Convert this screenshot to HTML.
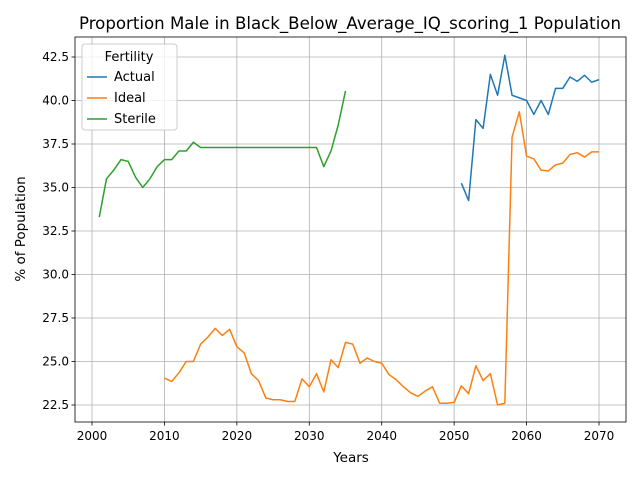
<!DOCTYPE html>
<html><head><meta charset="utf-8"><style>
body{margin:0;background:#fff;font-family:"Liberation Sans","DejaVu Sans",sans-serif}
</style></head><body>
<svg id="chart" width="640" height="480" xmlns="http://www.w3.org/2000/svg" font-family="DejaVu Sans, Liberation Sans, sans-serif">
<rect width="640" height="480" fill="#fff"/>
<text x="350" y="29" font-size="16.7" text-anchor="middle" textLength="542" lengthAdjust="spacingAndGlyphs">Proportion Male in Black_Below_Average_IQ_scoring_1 Population</text>
<g id="grid"></g><g id="series"></g><g id="axes"></g>
<text x="351" y="462" font-size="13.5" text-anchor="middle">Years</text>
<text transform="translate(25,229) rotate(-90)" font-size="13.5" text-anchor="middle">% of Population</text>
<g>
<rect x="82" y="44" width="95" height="86" rx="3" fill="#fff" fill-opacity="0.8" stroke="#ccc"/>
<text x="129" y="61" font-size="13" text-anchor="middle">Fertility</text>
<g><line x1="87" x2="107" y1="77" y2="77" stroke="#1f77b4" stroke-width="1.5"/><text x="114" y="81" font-size="13">Actual</text></g>
<g><line x1="87" x2="107" y1="98" y2="98" stroke="#ff7f0e" stroke-width="1.5"/><text x="114" y="102" font-size="13">Ideal</text></g>
<g><line x1="87" x2="107" y1="119" y2="119" stroke="#2ca02c" stroke-width="1.5"/><text x="114" y="123" font-size="13">Sterile</text></g>
</g>
</svg>
<script>
const xTicks=[2000,2010,2020,2030,2040,2050,2060,2070];
const yTicks=[22.5,25.0,27.5,30.0,32.5,35.0,37.5,40.0,42.5];
const sterileYears=[2001,2002,2003,2004,2005,2006,2007,2008,2009,2010,2011,2012,2013,2014,2015,2016,2017,2018,2019,2020,2021,2022,2023,2024,2025,2026,2027,2028,2029,2030,2031,2032,2033,2034,2035];
const sterileVals=[33.3,35.5,36.0,36.6,36.5,35.6,35.0,35.5,36.2,36.6,36.6,37.1,37.1,37.6,37.3,37.3,37.3,37.3,37.3,37.3,37.3,37.3,37.3,37.3,37.3,37.3,37.3,37.3,37.3,37.3,37.3,36.2,37.1,38.6,40.55];
const idealStart=2010;
const idealVals=[24.05,23.85,24.35,25.0,25.0,26.0,26.4,26.9,26.5,26.85,25.85,25.5,24.3,23.9,22.9,22.8,22.8,22.7,22.7,24.0,23.55,24.3,23.25,25.1,24.65,26.1,26.0,24.9,25.2,25.0,24.9,24.25,23.95,23.55,23.2,23.0,23.3,23.55,22.6,22.6,22.65,23.6,23.15,24.75,23.9,24.3,22.5,22.6,37.9,39.35,36.8,36.65,36.0,35.95,36.3,36.4,36.9,37.0,36.75,37.05,37.05];
const actualStart=2051;
const actualVals=[35.25,34.25,38.9,38.4,41.5,40.3,42.6,40.3,40.15,40.0,39.2,40.0,39.2,40.7,40.7,41.35,41.1,41.45,41.05,41.2];
const L=75,R=626,T=37,B=422;
const xs=v=>92+(v-2000)*(599-92)/70;
const ys=v=>405-(v-22.5)*(405-57)/20;
const NS="http://www.w3.org/2000/svg";
function mk(tag,attrs,parent){const e=document.createElementNS(NS,tag);for(const k in attrs)e.setAttribute(k,attrs[k]);parent.appendChild(e);return e;}
const grid=document.getElementById('grid'),axes=document.getElementById('axes'),ser=document.getElementById('series');
xTicks.forEach(t=>{const x=xs(t);
 const g=mk('line',{x1:x,x2:x,y1:T,y2:B,stroke:'#b0b0b0','stroke-width':0.8},grid);
 
 
 mk('line',{x1:x,x2:x,y1:B,y2:B+3.5,stroke:'#000','stroke-width':0.8},axes);
 const tx=mk('text',{x:x,y:B+18,'font-size':12,'text-anchor':'middle'},axes);tx.textContent=t;
 
 
});
yTicks.forEach(t=>{const y=ys(t);
 const g=mk('line',{x1:L,x2:R,y1:y,y2:y,stroke:'#b0b0b0','stroke-width':0.8},grid);
 
 
 mk('line',{x1:L-3.5,x2:L,y1:y,y2:y,stroke:'#000','stroke-width':0.8},axes);
 const tx=mk('text',{x:L-6,y:y+4.2,'font-size':12,'text-anchor':'end'},axes);tx.textContent=t.toFixed(1);
 
 
});
const fr=mk('rect',{x:L,y:T,width:R-L,height:B-T,fill:'none',stroke:'#000','stroke-width':0.8},axes);


function line(years,vals,color,name){
 const p=mk('polyline',{points:vals.map((v,i)=>xs(years[i])+','+ys(v)).join(' '),fill:'none',stroke:color,'stroke-width':1.5,'stroke-linejoin':'round'},ser);
 
 
}
line(actualVals.map((v,i)=>actualStart+i),actualVals,'#1f77b4','actual-line');
line(idealVals.map((v,i)=>idealStart+i),idealVals,'#ff7f0e','ideal-line');
line(sterileYears,sterileVals,'#2ca02c','sterile-line');
</script>
</body></html>
